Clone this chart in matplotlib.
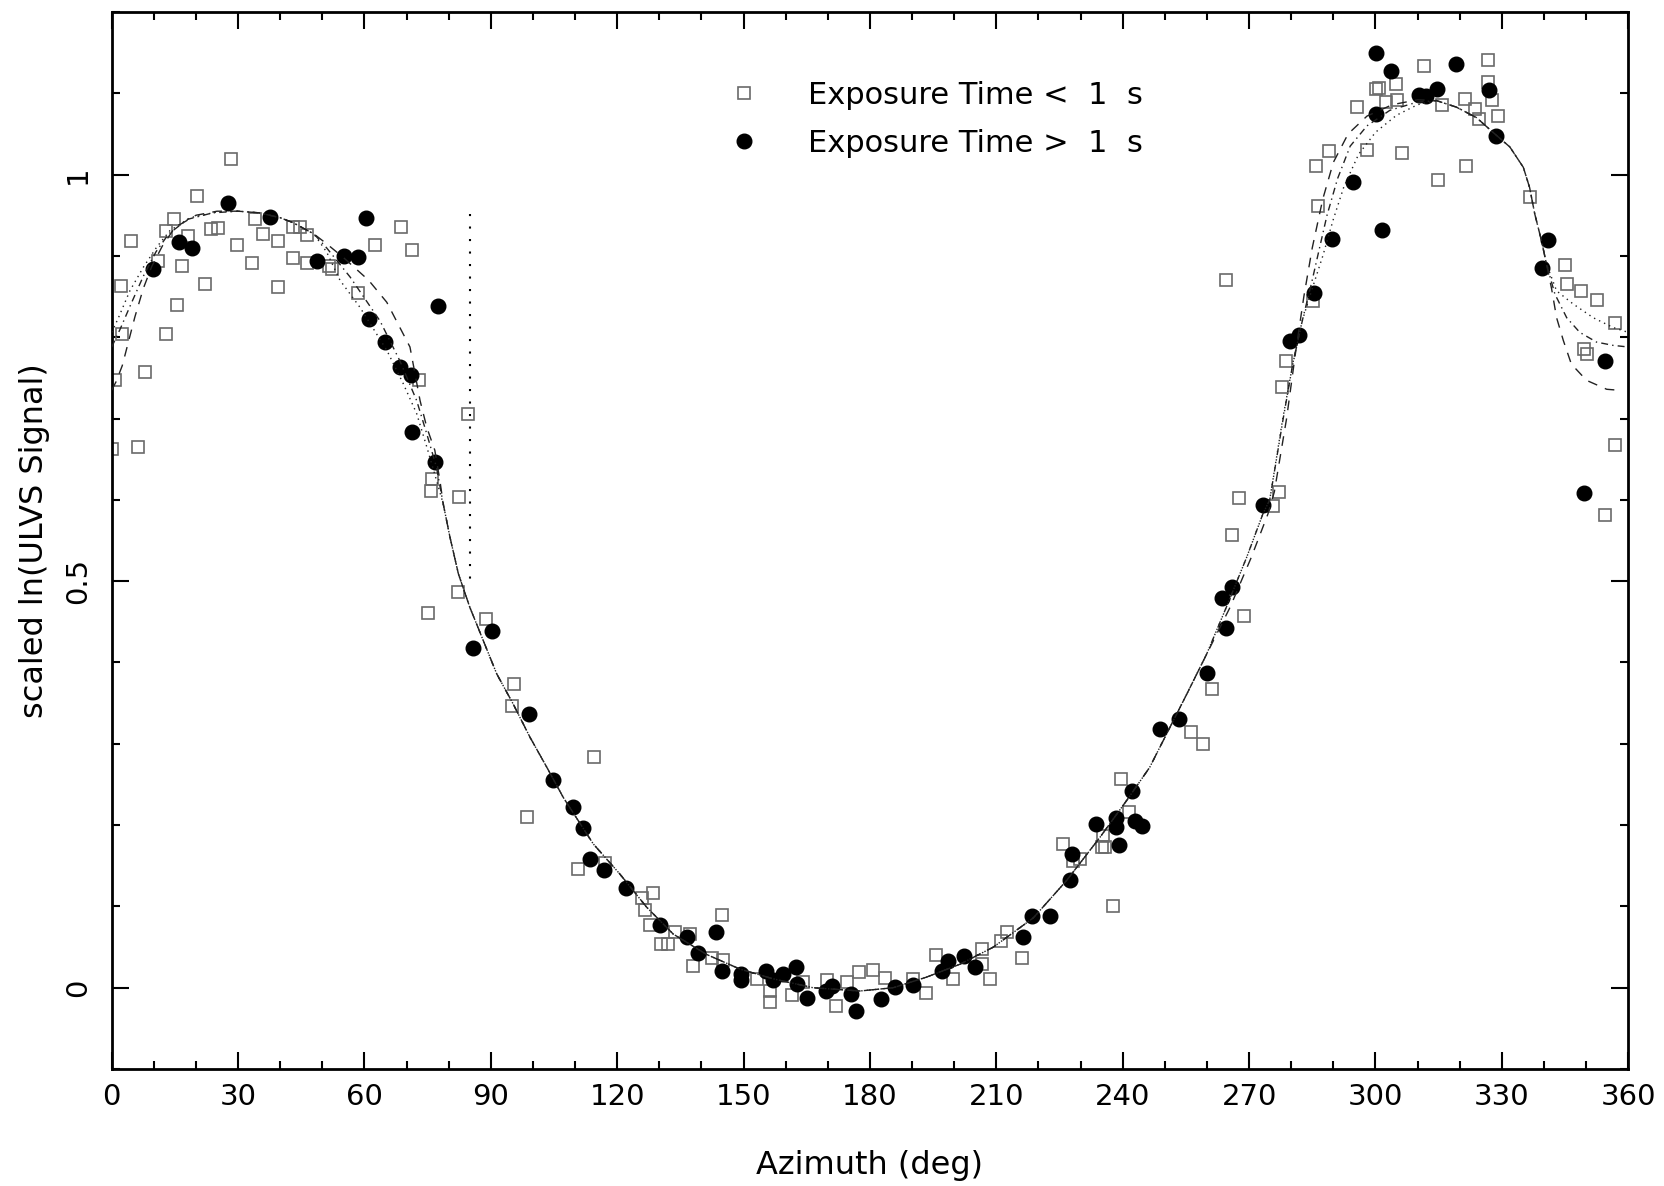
#! /usr/bin/env python
# -*- coding: utf-8 -*-

import matplotlib
matplotlib.use("Agg")
import matplotlib.pyplot as plt

# Azimuth (deg) and scaled ln(signal), exposure time < 1 s
az_short = [0.0, 0.8, 2.2, 2.4, 4.6, 6.3, 7.9, 11.1, 12.9, 13.0, 14.9, 15.4, 16.6,
            18.2, 20.2, 22.1, 23.6, 25.3, 28.2, 29.7, 33.4, 34.0, 35.8, 39.4, 39.4,
            43.0, 43.1, 44.7, 46.3, 46.4, 51.5, 52.3, 58.5, 62.5, 68.7, 71.2, 73.0,
            76.0, 75.8, 82.4, 84.6, 82.3, 75.0, 88.8, 95.6, 95.1, 98.5, 114.5,
            110.8, 117.1, 125.8, 126.6, 127.8, 128.4, 130.5, 132.1, 133.7, 137.3,
            138.0, 142.4, 144.8, 145.0, 153.1, 156.3, 156.3, 161.4, 164.2, 169.7,
            171.9, 174.5, 177.5, 180.8, 183.5, 190.1, 193.4, 195.7, 199.6, 206.5,
            206.7, 208.5, 211.0, 212.6, 216.0, 225.8, 229.8, 228.1, 235.0, 235.8,
            235.4, 237.6, 239.5, 241.5, 256.2, 259.1, 261.1, 264.6, 266.0, 267.6,
            268.8, 275.6, 277.1, 277.9, 278.7, 285.2, 286.0, 286.3, 288.9, 295.5,
            298.1, 300.1, 300.8, 302.5, 304.8, 305.0, 306.3, 311.5, 314.9, 315.9,
            321.2, 321.6, 323.6, 324.6, 326.6, 326.6, 327.6, 329.1, 336.6, 345.1,
            345.5, 348.8, 352.6, 356.8, 349.5, 350.1, 356.8, 354.4]
sig_short = [0.662, 0.748, 0.863, 0.804, 0.918, 0.665, 0.757, 0.894, 0.804, 0.931,
             0.945, 0.840, 0.887, 0.925, 0.974, 0.866, 0.933, 0.934, 1.019, 0.913,
             0.891, 0.945, 0.927, 0.918, 0.862, 0.936, 0.897, 0.935, 0.891, 0.926,
             0.888, 0.884, 0.854, 0.913, 0.935, 0.907, 0.747, 0.626, 0.611, 0.604,
             0.705, 0.487, 0.461, 0.454, 0.373, 0.346, 0.210, 0.284, 0.146, 0.154,
             0.110, 0.095, 0.077, 0.117, 0.054, 0.054, 0.069, 0.066, 0.027, 0.037,
             0.089, 0.034, 0.011, -0.004, -0.018, -0.009, 0.007, 0.009, -0.022,
             0.007, 0.019, 0.022, 0.012, 0.011, -0.006, 0.040, 0.011, 0.048, 0.029,
             0.011, 0.057, 0.069, 0.037, 0.177, 0.158, 0.156, 0.173, 0.173, 0.187,
             0.101, 0.257, 0.216, 0.314, 0.300, 0.367, 0.870, 0.557, 0.602, 0.457,
             0.593, 0.610, 0.739, 0.771, 0.845, 1.010, 0.961, 1.029, 1.083, 1.030,
             1.105, 1.106, 1.089, 1.112, 1.092, 1.027, 1.133, 0.993, 1.085, 1.093,
             1.011, 1.081, 1.068, 1.141, 1.114, 1.092, 1.072, 0.973, 0.889, 0.866,
             0.857, 0.846, 0.818, 0.786, 0.779, 0.667, 0.581]

# exposure time > 1 s
az_long = [9.9, 16.0, 19.0, 27.5, 37.6, 48.7, 55.2, 58.5, 60.3, 61.1, 64.9, 68.4,
           71.0, 71.4, 76.7, 77.4, 85.7, 90.3, 99.0, 104.8, 109.6, 111.8, 113.5,
           116.9, 122.2, 130.1, 136.5, 139.2, 143.4, 144.9, 149.5, 149.5, 155.3,
           157.0, 159.4, 162.4, 162.7, 165.1, 169.5, 171.1, 175.5, 176.8, 182.6,
           185.9, 190.3, 197.0, 198.6, 202.3, 204.9, 216.4, 218.5, 222.7, 227.5,
           227.9, 233.6, 238.4, 238.4, 239.2, 242.3, 242.9, 244.6, 248.8, 253.3,
           260.1, 263.5, 264.5, 266.0, 273.2, 279.8, 281.9, 285.5, 289.6, 294.7,
           300.1, 300.1, 301.6, 303.8, 310.4, 312.0, 314.5, 319.1, 326.9, 328.6,
           339.6, 341.0, 349.5, 354.4]
sig_long = [0.884, 0.917, 0.910, 0.965, 0.948, 0.894, 0.900, 0.899, 0.947, 0.823,
            0.794, 0.764, 0.754, 0.684, 0.647, 0.839, 0.418, 0.439, 0.337, 0.255,
            0.222, 0.196, 0.158, 0.145, 0.123, 0.077, 0.062, 0.043, 0.069, 0.021,
            0.017, 0.009, 0.021, 0.009, 0.017, 0.026, 0.005, -0.013, -0.004, 0.002,
            -0.008, -0.028, -0.014, 0.001, 0.003, 0.020, 0.033, 0.039, 0.026, 0.062,
            0.088, 0.088, 0.132, 0.164, 0.201, 0.209, 0.198, 0.176, 0.242, 0.205,
            0.199, 0.318, 0.331, 0.387, 0.479, 0.443, 0.493, 0.594, 0.795, 0.803,
            0.854, 0.921, 0.991, 1.149, 1.075, 0.932, 1.127, 1.098, 1.097, 1.105,
            1.136, 1.104, 1.047, 0.885, 0.920, 0.608, 0.771]

# fitted curves: pieces common to all three fits
top_az = [30.0, 35.0, 40.0, 43.0, 48.0]
top_sig = [0.955, 0.953, 0.947, 0.941, 0.927]
mid_az = [78.7, 80.3, 82.3, 85.0, 88.2, 91.4, 95.3, 99.3, 103.3, 107.2, 114.3,
          120.6, 127.0, 133.3, 141.2, 149.1, 157.0, 166.5, 177.6, 185.5, 193.4,
          201.4, 209.3, 218.8, 226.7, 234.6, 240.9, 246.4, 250.4, 255.2, 259.9]
mid_sig = [0.595, 0.554, 0.509, 0.468, 0.427, 0.386, 0.349, 0.308, 0.271, 0.234,
           0.177, 0.140, 0.099, 0.066, 0.041, 0.023, 0.011, 0.000, -0.004, 0.000,
           0.013, 0.029, 0.050, 0.086, 0.132, 0.185, 0.230, 0.271, 0.312, 0.361,
           0.410]
peak_az = [314.5, 319.2, 324.0, 327.9, 331.9, 335.1, 336.6, 337.8, 339.4, 340.6]
peak_sig = [1.091, 1.083, 1.070, 1.052, 1.034, 1.009, 0.984, 0.952, 0.919, 0.890]

# dotted fit
dot_rise_az = [0.0, 1.6, 4.3, 7.5, 10.7, 13.8, 18.6, 24.9]
dot_rise_sig = [0.806, 0.824, 0.857, 0.886, 0.911, 0.931, 0.947, 0.954]
dot_fall_az = [51.0, 54.2, 58.9, 65.3, 69.2, 72.4, 74.8, 77.1]
dot_fall_sig = [0.905, 0.870, 0.837, 0.784, 0.743, 0.706, 0.665, 0.624]
dot_up_az = [264.6, 269.4, 273.3, 274.9, 278.0, 280.3, 282.6, 285.0, 287.5,
             290.0, 292.5, 296.0, 300.0, 305.0, 310.0]
dot_up_sig = [0.468, 0.529, 0.583, 0.600, 0.700, 0.765, 0.820, 0.860, 0.900,
              0.945, 0.985, 1.025, 1.052, 1.073, 1.086]
dot_end_az = [343.0, 346.9, 351.7, 356.4, 360.0]
dot_end_sig = [0.857, 0.841, 0.824, 0.812, 0.806]

# dash-dot fit
dd_rise_az = [0.0, 2.0, 4.5, 7.5, 10.5, 13.5, 18.0, 24.0]
dd_rise_sig = [0.788, 0.810, 0.840, 0.875, 0.905, 0.927, 0.945, 0.953]
dd_fall_az = [51.0, 56.6, 63.7, 68.4, 72.4, 74.8, 77.1]
dd_fall_sig = [0.910, 0.874, 0.820, 0.771, 0.722, 0.681, 0.640]
dd_up_az = [264.6, 269.4, 273.3, 274.9, 278.1, 280.5, 282.8, 284.8, 286.6,
            288.5, 291.0, 294.0, 298.0, 303.4, 309.8]
dd_up_sig = [0.468, 0.529, 0.583, 0.600, 0.700, 0.771, 0.824, 0.866, 0.907,
             0.950, 0.995, 1.035, 1.060, 1.079, 1.089]
dd_end_az = [342.6, 345.4, 348.5, 352.5, 356.4, 360.0]
dd_end_sig = [0.853, 0.824, 0.806, 0.794, 0.790, 0.788]

# dashed fit
ds_rise_az = [0.0, 1.0, 2.5, 4.0, 5.5, 7.5, 9.5, 12.0, 15.0, 20.0, 25.0]
ds_rise_sig = [0.735, 0.745, 0.765, 0.795, 0.825, 0.860, 0.887, 0.912, 0.935,
               0.950, 0.955]
ds_fall_az = [51.0, 55.0, 61.0, 65.3, 68.0, 70.8, 73.2, 74.8, 76.7, 77.9]
ds_fall_sig = [0.915, 0.898, 0.870, 0.843, 0.816, 0.788, 0.722, 0.689, 0.661,
               0.624]
ds_up_az = [265.5, 270.5, 274.5, 276.0, 278.9, 281.0, 283.0, 285.0, 287.5,
            290.0, 293.5, 298.0, 304.0, 310.0]
ds_up_sig = [0.468, 0.529, 0.583, 0.610, 0.700, 0.780, 0.850, 0.910, 0.970,
             1.015, 1.050, 1.072, 1.086, 1.092]
ds_end_az = [341.8, 343.0, 344.6, 346.5, 350.1, 354.9, 357.3]
ds_end_sig = [0.860, 0.824, 0.796, 0.767, 0.747, 0.736, 0.735]

# step of one fit at 85 deg
step_az = [85.0, 85.0]
step_sig = [0.952, 0.490]

xticks = [0, 30, 60, 90, 120, 150, 180, 210, 240, 270, 300, 330, 360]
yticks = [0, 0.5, 1]
ytick_labels = ["0", "0.5", "1"]


def build_curve(rise_az, rise_sig, fall_az, fall_sig, up_az, up_sig, end_az, end_sig):
    """Join the pieces of one fitted curve into a single azimuth/value pair."""
    az = rise_az + top_az + fall_az + mid_az + up_az + peak_az + end_az
    sig = rise_sig + top_sig + fall_sig + mid_sig + up_sig + peak_sig + end_sig
    return az, sig


plt.rcParams["font.family"] = ["DejaVu Sans"]
fig = plt.figure(figsize=(16.65, 11.86), dpi=100)
ax = fig.add_axes([0.0671, 0.0986, 0.9108, 0.8913])

# Data points
ax.plot(az_short, sig_short, linestyle="none", marker="s", markersize=9,
        markerfacecolor="none", markeredgecolor="#6a6a6a", markeredgewidth=1.2,
        zorder=2, label="Exposure Time <  1  s")
ax.plot(az_long, sig_long, linestyle="none", marker="o", markersize=10.5,
        color="black", zorder=3, label="Exposure Time >  1  s")

# Fitted curves
line_kw = dict(color="#222222", linewidth=1.0, zorder=4)
x, y = build_curve(dot_rise_az, dot_rise_sig, dot_fall_az, dot_fall_sig,
                   dot_up_az, dot_up_sig, dot_end_az, dot_end_sig)
ax.plot(x, y, linestyle=(0, (1, 3)), **line_kw)
x, y = build_curve(dd_rise_az, dd_rise_sig, dd_fall_az, dd_fall_sig,
                   dd_up_az, dd_up_sig, dd_end_az, dd_end_sig)
ax.plot(x, y, linestyle=(0, (5, 3, 1, 3)), **line_kw)
x, y = build_curve(ds_rise_az, ds_rise_sig, ds_fall_az, ds_fall_sig,
                   ds_up_az, ds_up_sig, ds_end_az, ds_end_sig)
ax.plot(x, y, linestyle=(0, (7, 6)), **line_kw)
ax.plot(step_az, step_sig, color="black", linewidth=1.5,
        linestyle=(0, (1, 5)), zorder=4)

# Axes, ticks and labels
ax.set_xlim(0, 360)
ax.set_ylim(-0.1, 1.2)
ax.set_xticks(xticks)
ax.set_xticks(range(0, 361, 10), minor=True)
ax.set_yticks(yticks)
ax.set_yticklabels(ytick_labels)
ax.set_yticks([i / 10 for i in range(-1, 13)], minor=True)
ax.tick_params(which="both", direction="in", top=True, right=True, width=1.5,
               labelsize=21)
ax.tick_params(which="major", length=12)
ax.tick_params(which="minor", length=6)
ax.tick_params(axis="x", pad=10)
ax.tick_params(axis="y", pad=14, labelrotation=90)
for lbl in ax.get_yticklabels():
    lbl.set_verticalalignment("center")
for spine in ax.spines.values():
    spine.set_linewidth(2.0)

ax.set_xlabel("Azimuth (deg)", fontsize=23, labelpad=28)
ax.set_ylabel("scaled ln(ULVS Signal)", fontsize=23, labelpad=10)

ax.legend(loc="center left", bbox_to_anchor=(0.399, 0.8985), frameon=False,
          fontsize=22, handlelength=1.0, handletextpad=1.6, borderaxespad=0,
          labelspacing=0.62, numpoints=1)

fig.savefig("out.png", dpi=100)
